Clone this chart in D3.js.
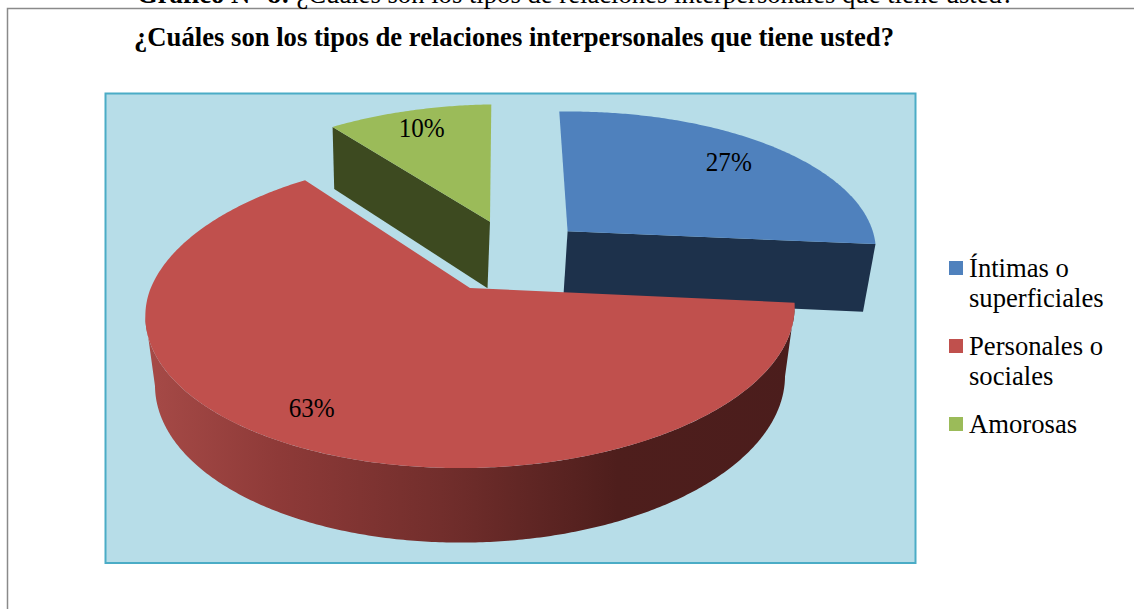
<!DOCTYPE html>
<html lang="es">
<head>
<meta charset="utf-8">
<script src="https://cdn.jsdelivr.net/npm/d3@7"></script>
<style>
html,body{margin:0;padding:0;background:#fff;overflow:hidden}
text{font-family:"Liberation Serif","Times New Roman",serif;fill:#000}
</style>
</head>
<body>
<svg id="chart" width="1134" height="609" viewBox="0 0 1134 609"></svg>
<script>
const categories = ["Íntimas o superficiales", "Personales o sociales", "Amorosas"];
const legendLines = [["Íntimas o", "superficiales"], ["Personales o", "sociales"], ["Amorosas"]];
const values = [27, 63, 10];
const labels = ["27%", "63%", "10%"];
const topColors = ["#4f81bd", "#c0504d", "#9bbb59"];
const wallColors = ["#1d314b", "url(#redWall)", "#3d4a20"];
const explode = [[0.316, 0.382], [0, 0], [0.060, 0.461]];
const labelRadius = [0.79, 0.82, 0.83];
const labelTurn = [-0.01, 0.035, 0];
const chartTitle = "¿Cuáles son los tipos de relaciones interpersonales que tiene usted?";
const captionBold = "Gráfico N° 8:";
const captionRest = " ¿Cuáles son los tipos de relaciones interpersonales que tiene usted?";

const svg = d3.select("#chart");

// Projection of the pie disc: perspective camera on a tilted disc
const view = {cx: 470, cy: 288, R: 321, A: 153, k: 0.15, B: 71, m: 0.03, sx: 0.03, sy: 0.015};
function project(u, v, z) {
  const w = 1 + view.k * v + view.m * z;
  const dx = view.R * u / w;
  const up = (view.A * v - view.B * z) / w;
  return [view.cx + dx + view.sx * Math.max(up, 0), view.cy - up - view.sy * dx];
}
const pie = d3.pie().sort(null).value(d => d);
const arcs = pie(values);
const line = d3.line();

function rim(i, a0, a1, z) {
  const [ox, oy] = explode[i];
  const n = Math.max(2, Math.ceil(Math.abs(a1 - a0) / 0.01));
  return d3.range(n + 1).map(j => {
    const a = a0 + (a1 - a0) * j / n;
    return project(ox + Math.sin(a), oy + Math.cos(a), z);
  });
}
const apex = (i, z) => project(explode[i][0], explode[i][1], z);

// Frame + caption
svg.append("rect").attr("width", 1134).attr("height", 609).attr("fill", "#fff");
svg.append("path").attr("d", "M7.5,609V8.5H1134").attr("fill", "none").attr("stroke", "#8a8a8a").attr("stroke-width", 1.5);
const cap = svg.append("text").attr("x", 137).attr("y", 3).attr("font-size", 26.67);
cap.append("tspan").attr("font-weight", "bold").text(captionBold);
cap.append("tspan").text(captionRest);

// Title
svg.append("text").attr("x", 514).attr("y", 46).attr("text-anchor", "middle")
  .attr("font-size", 26.67).attr("font-weight", "bold").text(chartTitle);

// Plot area
svg.append("rect").attr("x", 105.5).attr("y", 93.5).attr("width", 810).attr("height", 469.5)
  .attr("fill", "#b7dde8").attr("stroke", "#4bacc6").attr("stroke-width", 2);

// Wall gradient
const g = svg.append("defs").append("linearGradient").attr("id", "redWall")
  .attr("gradientUnits", "userSpaceOnUse").attr("x1", 148).attr("x2", 800).attr("y1", 0).attr("y2", 0);
[[0, "#a64a47"], [0.2, "#8e3a38"], [0.45, "#722e2c"], [0.72, "#4e1e1c"], [1, "#4b1d1c"]]
  .forEach(([o, c]) => g.append("stop").attr("offset", o).attr("stop-color", c));

// Draw back to front: green, blue, red
[2, 0, 1].forEach(i => {
  const d = arcs[i];
  // only the part of the rim between the two silhouette points gets an outer wall
  const a0 = Math.max(d.startAngle, Math.PI / 2 + view.k), a1 = Math.min(d.endAngle, 3 * Math.PI / 2 - view.k);
  if (a1 > a0) {
    const outer = rim(i, a0, a1, 0);
    const outerB = rim(i, a0, a1, 1);
    svg.append("path").attr("d", line(outer.concat(outerB.slice().reverse())) + "Z").attr("fill", wallColors[i]);
  }
  if (i !== 1) {
    const wa = i === 0 ? d.endAngle : d.startAngle;
    const t = rim(i, wa, wa, 0)[0], b = rim(i, wa, wa, 1)[0];
    svg.append("path").attr("d", line([apex(i, 0), t, b, apex(i, 1)]) + "Z").attr("fill", wallColors[i]);
  }
  svg.append("path").attr("d", line([apex(i, 0)].concat(rim(i, d.startAngle, d.endAngle, 0))) + "Z").attr("fill", topColors[i]);
});

// Percent labels
arcs.forEach((d, i) => {
  const mid = (d.startAngle + d.endAngle) / 2 + labelTurn[i];
  const p = project(explode[i][0] + labelRadius[i] * Math.sin(mid), explode[i][1] + labelRadius[i] * Math.cos(mid), 0);
  svg.append("text").attr("x", p[0]).attr("y", p[1] + 9).attr("text-anchor", "middle")
    .attr("font-size", 26.67).attr("textLength", 46).attr("lengthAdjust", "spacingAndGlyphs").text(labels[i]);
});

// Legend
const legendY = d3.scalePoint().domain(categories).range([261, 417]);
categories.forEach((c, i) => {
  const y = legendY(c);
  svg.append("rect").attr("x", 949).attr("y", y).attr("width", 14).attr("height", 14).attr("fill", topColors[i]);
  legendLines[i].forEach((t, j) => {
    svg.append("text").attr("x", 969).attr("y", y + 16 + j * 30).attr("font-size", 26.67).text(t);
  });
});
</script>
</body>
</html>
